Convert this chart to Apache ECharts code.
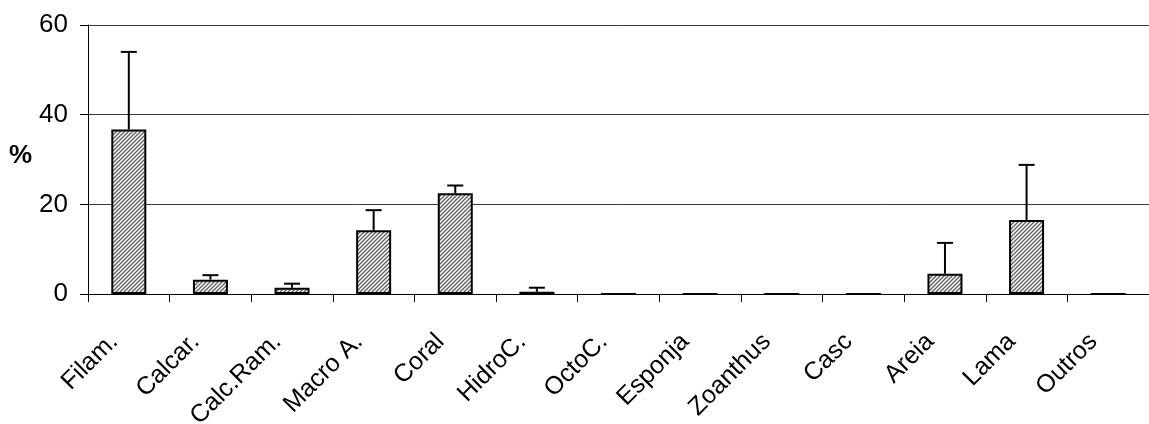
<!DOCTYPE html>
<html>
<head>
<meta charset="utf-8">
<style>
  html, body { margin: 0; padding: 0; background: #fff; }
  #chart { width: 1149px; height: 424px; }
</style>
<script src="https://cdn.jsdelivr.net/npm/echarts@6/dist/echarts.min.js"></script>
</head>
<body>
<div id="chart"></div>
<script>
// Substrate cover (%) per category, mean and standard deviation
const categories = ['Filam.', 'Calcar.', 'Calc.Ram.', 'Macro A.', 'Coral', 'HidroC.', 'OctoC.', 'Esponja', 'Zoanthus', 'Casc', 'Areia', 'Lama', 'Outros'];
const means = [36.7, 3.2, 1.4, 14.2, 22.5, 0.5, 0, 0, 0, 0, 4.5, 16.5, 0];
const deviations = [17.3, 1.0, 0.9, 4.5, 1.7, 0.9, 0, 0, 0, 0, 6.9, 12.3, 0];
const yTicks = [0, 20, 40, 60];

// Diagonal hatch tile used as the bar fill
function hatchTile() {
  const size = 4;
  const c = document.createElement('canvas');
  c.width = size; c.height = size;
  const g = c.getContext('2d');
  g.fillStyle = '#ffffff';
  g.fillRect(0, 0, size, size);
  g.strokeStyle = '#5e5e5e';
  g.lineWidth = 1.3;
  g.beginPath();
  g.moveTo(0, size); g.lineTo(size, 0);
  g.moveTo(-1, 1); g.lineTo(1, -1);
  g.moveTo(size - 1, size + 1); g.lineTo(size + 1, size - 1);
  g.stroke();
  return c;
}

const chart = echarts.init(document.getElementById('chart'), null, { renderer: 'canvas' });

const errorData = means.map((m, i) => [i, m, m + deviations[i]]);

chart.setOption({
  animation: false,
  backgroundColor: '#ffffff',
  textStyle: { fontFamily: 'Liberation Sans, Arial, sans-serif' },
  grid: { left: 88, right: 0, top: 25, bottom: 130, containLabel: false, outerBoundsMode: 'none' },
  xAxis: {
    type: 'category',
    data: categories,
    boundaryGap: true,
    axisLine: { lineStyle: { color: '#000', width: 1 } },
    axisTick: { show: true, alignWithLabel: false, length: 8, lineStyle: { color: '#000' } },
    axisLabel: {
      rotate: 45,
      interval: 0,
      margin: 29,
      padding: [0, 21, 0, 0],
      color: '#000',
      fontSize: 25,
      fontFamily: 'Liberation Sans, Arial, sans-serif'
    },
    splitLine: { show: false }
  },
  yAxis: {
    type: 'value',
    min: yTicks[0],
    max: yTicks[yTicks.length - 1],
    interval: yTicks[1] - yTicks[0],
    axisLine: { show: true, lineStyle: { color: '#000', width: 1 } },
    axisTick: { show: true, length: 8, lineStyle: { color: '#000' } },
    axisLabel: {
      margin: 20,
      color: '#000',
      fontSize: 26,
      fontFamily: 'Liberation Sans, Arial, sans-serif'
    },
    splitLine: { show: true, lineStyle: { color: '#3a3a3a', width: 1 } }
  },
  graphic: [{
    type: 'text',
    left: 9,
    top: 143,
    style: {
      text: '%',
      font: 'bold 26px "Liberation Sans", Arial, sans-serif',
      fill: '#000'
    }
  }],
  series: [
    {
      type: 'bar',
      data: means,
      barWidth: 35,
      itemStyle: {
        color: { image: hatchTile(), repeat: 'repeat' },
        borderColor: '#000',
        borderWidth: 2
      },
      z: 2
    },
    {
      type: 'custom',
      data: errorData,
      encode: { x: 0, y: [1, 2] },
      z: 3,
      renderItem: function (params, api) {
        const i = api.value(0);
        const base = api.coord([i, api.value(1)]);
        const top = api.coord([i, api.value(2)]);
        const half = 8;
        const style = { stroke: '#000', lineWidth: 2, fill: null };
        return {
          type: 'group',
          children: [
            { type: 'line', shape: { x1: top[0], y1: base[1], x2: top[0], y2: top[1] }, style: style },
            { type: 'line', shape: { x1: top[0] - half, y1: top[1], x2: top[0] + half, y2: top[1] }, style: style }
          ]
        };
      }
    }
  ]
});
</script>
</body>
</html>
